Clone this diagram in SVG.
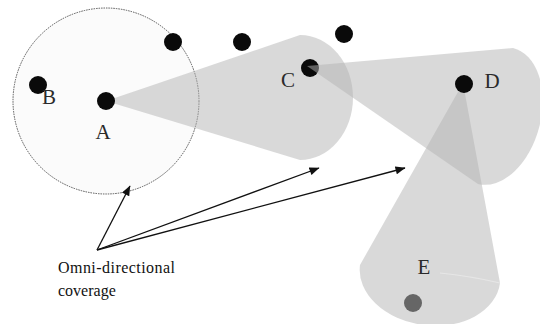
<svg xmlns="http://www.w3.org/2000/svg" width="540" height="324" viewBox="0 0 540 324">
<defs>
<style>
.cone{fill:#b4b4b4;fill-opacity:0.5;stroke:none}
.node{fill:#0a0a0a}
.lbl{font-family:"Liberation Serif",serif;font-size:21px;fill:#2a2a2a;text-anchor:middle}
.txt{font-family:"Liberation Serif",serif;font-size:16px;fill:#111}
.arr{stroke:#111;stroke-width:1.3;fill:none;marker-end:url(#ah)}
</style>
<marker id="ah" viewBox="0 0 10 8" refX="9.5" refY="4" markerWidth="11" markerHeight="8" markerUnits="userSpaceOnUse" orient="auto">
<path d="M0,0 L10,4 L0,8 Z" fill="#111"/>
</marker>
</defs>
<rect width="540" height="324" fill="#fff"/>
<g id="omni-circle">
<circle cx="106" cy="101" r="93" fill="#fbfbfb" stroke="#555" stroke-width="1" stroke-dasharray="1.5 1"/>
</g>
<g id="cones">
<path class="cone" d="M106 101 L300 35 A53 62.5 0 0 1 300 160 Z"/>
<path class="cone" d="M463 83 L500 283 A70 51 7.3 0 1 360 265 Z"/>
<path d="M440 273 Q470 276 500 283" stroke="#e6e6e6" stroke-width="1.2" fill="none"/>
</g>
<g id="node-A"><circle class="node" cx="106" cy="101" r="9"/><text class="lbl" x="103" y="139">A</text></g>
<g id="node-B"><circle class="node" cx="38" cy="85" r="9"/><text class="lbl" x="49" y="104">B</text></g>
<g id="node-1"><circle class="node" cx="173" cy="42" r="9"/></g>
<g id="node-2"><circle class="node" cx="242" cy="42" r="9"/></g>
<g id="node-3"><circle class="node" cx="344" cy="34" r="9"/></g>
<g id="node-C"><circle class="node" cx="310" cy="68" r="9"/><text class="lbl" x="288" y="87">C</text></g>
<g id="cone-C"><path class="cone" d="M307 66 L513 48 A45 70 14.8 0 1 478 184 Z"/></g>
<g id="node-D"><circle class="node" cx="464" cy="84" r="9"/><text class="lbl" x="492" y="88">D</text></g>
<g id="node-E"><circle cx="413" cy="303" r="9" fill="#666"/><text class="lbl" x="424" y="274">E</text></g>
<g id="connectors">
<line class="arr" x1="97" y1="250" x2="130" y2="186"/>
<line class="arr" x1="97" y1="250" x2="319" y2="168"/>
<line class="arr" x1="97" y1="250" x2="405" y2="168"/>
</g>
<g id="caption">
<text class="txt" x="58" y="273" textLength="117">Omni-directional</text>
<text class="txt" x="58" y="296">coverage</text>
</g>
</svg>
